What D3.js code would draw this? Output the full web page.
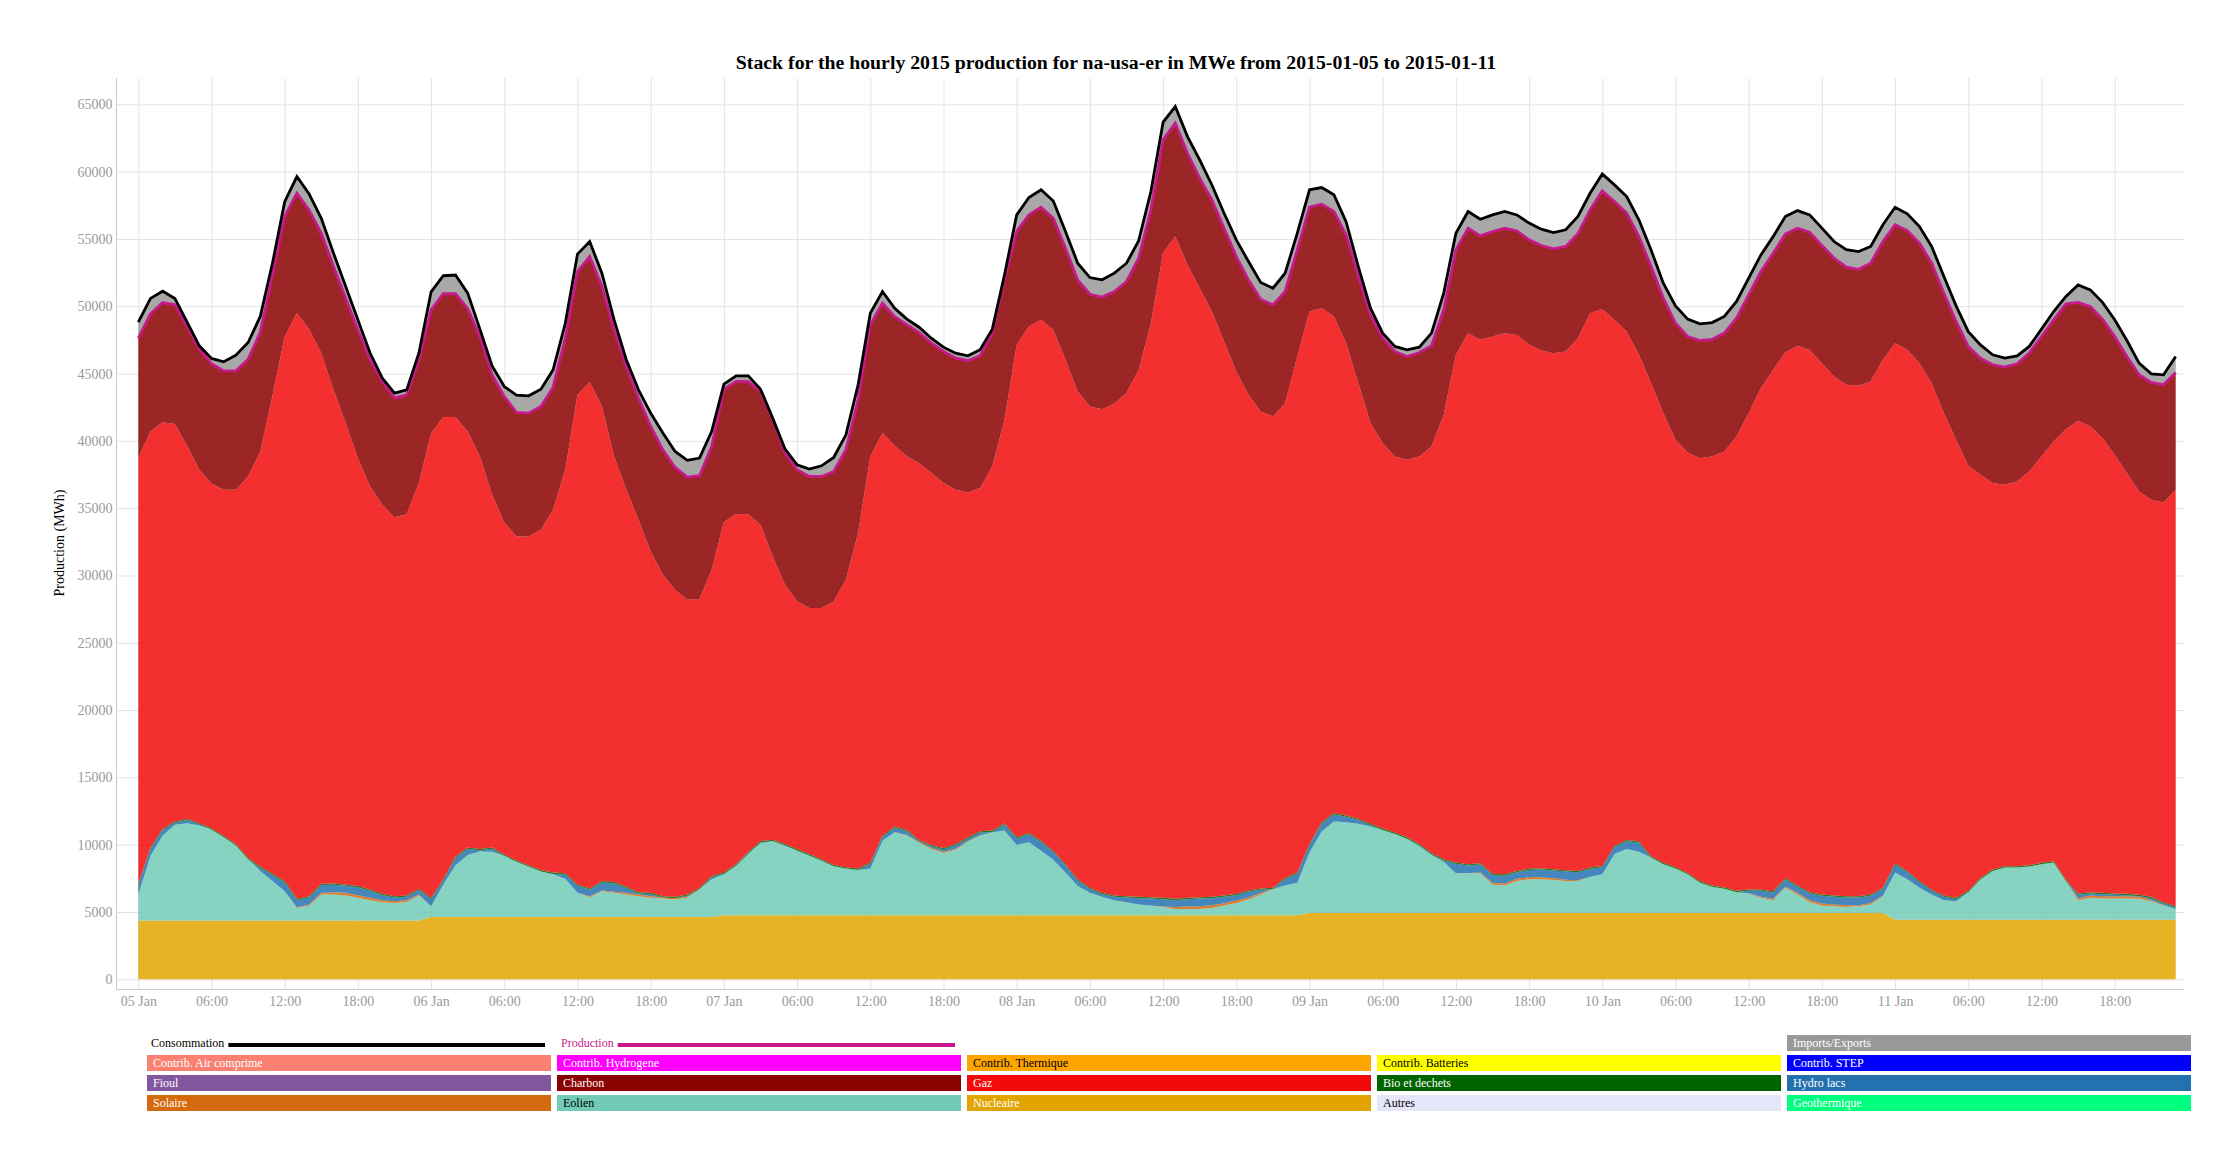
<!DOCTYPE html>
<html>
<head>
<meta charset="utf-8">
<script src="https://cdn.jsdelivr.net/npm/d3@7"></script>
<style>
body { margin: 0; background: #fff; }
svg { display: block; font-family: "Liberation Serif", "Times New Roman", serif; }
</style>
</head>
<body>
<div id="graph"></div>
<script>
// hourly values, 2015-01-05 00:00 -> 2015-01-11 23:00 (one line per day)
const START = Date.UTC(2015, 0, 5, 0);

const nucleaire = [
    4375, 4375, 4375, 4375, 4375, 4375, 4375, 4375, 4375, 4375, 4375, 4375, 4375, 4375, 4375, 4375, 4375, 4375, 4375, 4375, 4375, 4375, 4375, 4375,
    4625, 4625, 4625, 4625, 4625, 4625, 4625, 4625, 4625, 4625, 4625, 4625, 4625, 4625, 4625, 4625, 4625, 4625, 4625, 4625, 4625, 4625, 4625, 4625,
    4750, 4750, 4750, 4750, 4750, 4750, 4750, 4750, 4750, 4750, 4750, 4750, 4750, 4750, 4750, 4750, 4750, 4750, 4750, 4750, 4750, 4750, 4750, 4750,
    4750, 4750, 4750, 4750, 4750, 4750, 4750, 4750, 4750, 4750, 4750, 4750, 4750, 4750, 4750, 4750, 4750, 4750, 4750, 4750, 4750, 4750, 4750, 4750,
    4925, 4925, 4925, 4925, 4925, 4925, 4925, 4925, 4925, 4925, 4925, 4925, 4925, 4925, 4925, 4925, 4925, 4925, 4925, 4925, 4925, 4925, 4925, 4925,
    4925, 4925, 4925, 4925, 4925, 4925, 4925, 4925, 4925, 4925, 4925, 4925, 4925, 4925, 4925, 4925, 4925, 4925, 4925, 4925, 4925, 4925, 4925, 4925,
    4425, 4425, 4425, 4425, 4425, 4425, 4425, 4425, 4425, 4425, 4425, 4425, 4425, 4425, 4425, 4425, 4425, 4425, 4425, 4425, 4425, 4425, 4425, 4425
];

const eolien = [
    1925, 4800, 6300, 7100, 7225, 7050, 6750, 6175, 5550, 4550, 3675, 2925, 2175, 925, 1100, 1925, 1925, 1850, 1675, 1500, 1350, 1300, 1375, 1850,
    800, 2425, 3850, 4600, 4875, 4850, 4550, 4100, 3750, 3375, 3175, 2850, 1800, 1475, 1925, 1800, 1675, 1550, 1425, 1375, 1300, 1425, 2050, 2800,
    3050, 3675, 4550, 5375, 5500, 5175, 4800, 4425, 4050, 3625, 3475, 3375, 3475, 5550, 6175, 5925, 5375, 4925, 4625, 4875, 5475, 5925, 6175, 6300,
    5225, 5425, 4800, 4125, 3175, 2175, 1675, 1375, 1125, 975, 800, 725, 625, 475, 475, 475, 550, 725, 925, 1175, 1550, 1925, 2225, 2425,
    4500, 6050, 6800, 6750, 6625, 6425, 6175, 5875, 5500, 4950, 4300, 3800, 2950, 2950, 2950, 2125, 2050, 2375, 2500, 2500, 2450, 2375, 2375, 2700,
    2875, 4375, 4750, 4550, 4125, 3625, 3300, 2875, 2250, 1950, 1800, 1550, 1450, 1125, 950, 1875, 1375, 800, 550, 500, 450, 500, 625, 1250,
    3500, 3000, 2375, 1875, 1450, 1375, 2050, 3000, 3625, 3875, 3875, 3950, 4125, 4250, 2875, 1450, 1625, 1575, 1575, 1575, 1550, 1375, 1050, 800
];

const solaire = [
    0, 0, 0, 0, 0, 0, 0, 0, 0, 0, 0, 0, 0, 50, 75, 125, 175, 200, 200, 175, 150, 125, 125, 75,
    0, 0, 0, 0, 0, 0, 0, 0, 0, 0, 0, 0, 0, 75, 50, 75, 125, 125, 125, 75, 100, 75, 25, 0,
    0, 0, 0, 0, 0, 0, 0, 0, 0, 0, 0, 0, 0, 0, 25, 50, 75, 100, 100, 75, 50, 25, 0, 0,
    0, 0, 0, 0, 0, 0, 0, 0, 0, 0, 0, 0, 25, 150, 175, 200, 200, 175, 175, 150, 125, 25, 0, 0,
    0, 0, 0, 0, 0, 0, 0, 0, 0, 0, 0, 0, 0, 25, 50, 125, 150, 175, 175, 150, 125, 100, 50, 0,
    0, 0, 0, 0, 0, 0, 0, 0, 0, 0, 0, 0, 25, 75, 100, 75, 125, 150, 150, 125, 125, 75, 125, 25,
    0, 0, 0, 0, 0, 0, 0, 0, 0, 0, 0, 0, 0, 0, 0, 150, 175, 175, 175, 175, 150, 100, 50, 0
];

const hydro = [
    700, 525, 400, 150, 225, 75, 0, 0, 25, 0, 225, 450, 650, 525, 525, 575, 550, 525, 575, 525, 375, 275, 250, 325,
    525, 275, 550, 475, 75, 225, 0, 0, 0, 0, 25, 300, 525, 475, 600, 625, 350, 75, 150, 0, 0, 75, 0, 150,
    25, 25, 75, 25, 25, 25, 25, 25, 25, 25, 0, 0, 350, 275, 300, 275, 50, 100, 175, 250, 175, 200, 25, 450,
    475, 600, 650, 575, 525, 400, 275, 200, 250, 350, 475, 525, 550, 500, 550, 575, 525, 475, 400, 425, 225, 0, 475, 650,
    525, 600, 525, 400, 275, 100, 0, 0, 25, 75, 50, 100, 700, 550, 600, 575, 575, 475, 525, 575, 575, 600, 600, 575,
    525, 525, 575, 675, 0, 0, 0, 0, 0, 0, 0, 0, 175, 450, 475, 525, 450, 500, 575, 575, 575, 575, 525, 500,
    600, 525, 400, 275, 250, 150, 0, 0, 0, 0, 0, 0, 0, 0, 0, 250, 150, 150, 100, 75, 50, 125, 100, 100
];

const bio = [
    100, 100, 100, 100, 100, 100, 100, 100, 100, 100, 100, 100, 100, 100, 100, 100, 100, 100, 100, 100, 100, 100, 100, 100,
    100, 100, 100, 100, 100, 100, 100, 100, 100, 100, 100, 100, 100, 100, 100, 100, 100, 100, 100, 100, 100, 100, 100, 100,
    100, 100, 100, 100, 100, 100, 100, 100, 100, 100, 100, 100, 100, 100, 100, 100, 100, 100, 100, 100, 100, 100, 100, 100,
    100, 100, 100, 100, 100, 100, 100, 100, 100, 100, 100, 100, 100, 100, 100, 100, 100, 100, 100, 100, 100, 100, 100, 100,
    100, 100, 100, 100, 100, 100, 100, 100, 100, 100, 100, 100, 100, 100, 100, 100, 100, 100, 100, 100, 100, 100, 100, 100,
    100, 100, 100, 100, 100, 100, 100, 100, 100, 100, 100, 100, 100, 100, 100, 100, 100, 100, 100, 100, 100, 100, 100, 100,
    100, 100, 100, 100, 100, 100, 100, 100, 100, 100, 100, 100, 100, 100, 100, 100, 100, 100, 100, 100, 100, 100, 100, 100
];

const gaz = [
    31620, 30900, 30210, 29520, 27710, 26250, 25590, 25710, 26310, 28330, 30840, 35500, 40450, 43510, 42120, 39410, 36670, 34270, 31790, 29940, 28900, 28140, 28330, 30140,
    34520, 34340, 32640, 30900, 29160, 26190, 24660, 24070, 24420, 25290, 26950, 29970, 36370, 37630, 35250, 31610, 29490, 27660, 25360, 23880, 22820, 21900, 21450, 22750,
    26040, 26010, 25080, 23520, 21040, 19260, 18400, 18280, 18650, 19570, 21360, 24920, 30160, 29900, 28280, 27740, 27990, 27630, 27110, 26310, 25620, 25490, 27050, 29960,
    36580, 37620, 38690, 38690, 37470, 36240, 35750, 35930, 36530, 37370, 39150, 42640, 47940, 49200, 47020, 45240, 43480, 41150, 38800, 36820, 35430, 35010, 35250, 38340,
    39560, 38180, 36890, 35080, 32360, 29770, 28630, 27940, 28040, 28790, 30210, 33010, 37710, 39450, 38880, 39900, 40200, 39820, 38910, 38460, 38340, 38540, 39580, 41180,
    41350, 39060, 37770, 36140, 35130, 33410, 31750, 31240, 31440, 31860, 32390, 33750, 35380, 37240, 38720, 39060, 40080, 40280, 39470, 38550, 37990, 37910, 38110, 39220,
    38630, 38710, 38470, 37610, 35830, 34030, 31570, 29950, 28710, 28340, 28580, 29250, 30190, 31180, 33470, 35110, 34590, 33780, 32590, 31250, 29970, 29500, 29700, 30940
];

const charbon = [
    8910, 8740, 8890, 8860, 8860, 8960, 8910, 8840, 8840, 8710, 8840, 8980, 8910, 8910, 8860, 8910, 9160, 9280, 9530, 9410, 9160, 8860, 8860, 9160,
    9160, 9160, 9160, 9110, 8910, 8910, 9360, 9210, 9160, 9160, 9110, 9780, 9160, 9310, 8910, 9410, 9160, 9030, 9280, 9280, 9080, 9110, 9160, 9160,
    9880, 9850, 9850, 9900, 10150, 9780, 9780, 9780, 9780, 9650, 9650, 9900, 9780, 9650, 9600, 9780, 9700, 9650, 9780, 9780, 9780, 9830, 9900, 10400,
    8420, 8290, 8370, 8290, 8290, 8290, 8340, 8320, 8340, 8290, 8290, 8420, 8370, 8420, 8290, 8170, 8290, 8420, 8540, 8540, 8340, 8290, 8290, 7920,
    7750, 7720, 7800, 8040, 7920, 8040, 7800, 7800, 7670, 7720, 7480, 7800, 7800, 7800, 7720, 7800, 7800, 7720, 7800, 7800, 7750, 7800, 7750, 7670,
    8790, 8790, 8790, 8790, 8660, 8540, 8660, 8610, 8740, 8710, 8790, 8790, 8790, 8660, 8660, 8790, 8740, 8740, 8740, 8790, 8740, 8660, 8790, 8790,
    8790, 8860, 8910, 8910, 8910, 8790, 8860, 8660, 8790, 8740, 8740, 8790, 8910, 9030, 9310, 8790, 8910, 8840, 8790, 8660, 8660, 8710, 8740, 8710
];

const imports = [
    1190, 1140, 840, 470, 320, 250, 400, 670, 1160, 1240, 1190, 870, 1110, 1240, 1190, 1110, 990, 870, 740, 500, 250, 370, 370, 500,
    1340, 1340, 1390, 1160, 550, 670, 740, 1290, 1290, 1290, 1290, 1110, 1290, 1110, 990, 740, 500, 620, 990, 1240, 1190, 1240, 1310, 1120,
    370, 420, 420, 170, 120, 320, 370, 540, 790, 1040, 1110, 1110, 870, 870, 620, 420, 400, 370, 320, 370, 370, 450, 300, 370,
    1240, 1290, 1290, 1290, 1240, 1240, 1240, 1290, 1360, 1360, 1310, 1360, 1310, 1240, 1240, 1360, 1110, 1110, 1240, 1360, 1240, 1240, 1360, 1240,
    1290, 1240, 1240, 990, 740, 500, 370, 370, 500, 400, 940, 1240, 1240, 1240, 1240, 1240, 1240, 1190, 1240, 1210, 1210, 1240, 1290, 1240,
    1260, 1240, 1240, 1240, 1240, 1110, 1290, 1290, 1240, 1240, 1240, 1240, 1240, 1240, 1240, 1310, 1310, 1290, 1290, 1240, 1290, 1310, 1240, 1240,
    1310, 1240, 1240, 1240, 1240, 1160, 1110, 990, 740, 670, 590, 500, 550, 620, 550, 1310, 1240, 1240, 1240, 1190, 870, 640, 740, 1190
];

const xTickLabels = [
    "05 Jan", "06:00", "12:00", "18:00", "06 Jan", "06:00", "12:00", "18:00",
    "07 Jan", "06:00", "12:00", "18:00", "08 Jan", "06:00", "12:00", "18:00",
    "09 Jan", "06:00", "12:00", "18:00", "10 Jan", "06:00", "12:00", "18:00",
    "11 Jan", "06:00", "12:00", "18:00"
];
const yTicks = [0, 5000, 10000, 15000, 20000, 25000, 30000, 35000, 40000, 45000, 50000, 55000, 60000, 65000];

const stackKeys = ["Nucleaire", "Eolien", "Solaire", "Hydro lacs", "Bio et dechets", "Gaz", "Charbon", "Imports/Exports"];

const legendRows = [
    ["Contrib. Air comprime", "Contrib. Hydrogene", "Contrib. Thermique", "Contrib. Batteries", "Contrib. STEP"],
    ["Fioul", "Charbon", "Gaz", "Bio et dechets", "Hydro lacs"],
    ["Solaire", "Eolien", "Nucleaire", "Autres", "Geothermique"]
];

const colors = {
    "Contrib. Air comprime": "#fa8072", "Contrib. Hydrogene": "#ff00ff", "Contrib. Thermique": "#ffa500",
    "Contrib. Batteries": "#ffff00", "Contrib. STEP": "#0000ff", "Fioul": "#8157a0", "Charbon": "#8b0000",
    "Gaz": "#f20a0a", "Bio et dechets": "#006400", "Hydro lacs": "#2471b0", "Solaire": "#d5690d",
    "Eolien": "#72cbb7", "Nucleaire": "#e2a400", "Autres": "#e6e6fa", "Geothermique": "#00ff7f",
    "Imports/Exports": "#999999"
};
const darkText = ["Contrib. Thermique", "Contrib. Batteries", "Eolien", "Autres"];
const PROD_COLOR = "#c8198c";

const width = 2240, height = 1160;
const frame = {left: 116.5, right: 2184, top: 78, bottom: 989.5};

let svg = d3.select("#graph")
    .append("svg")
    .attr("width", width)
    .attr("height", height);

let hours = nucleaire.map(function(d, i) { return new Date(START + i * 3600000); });

let table = hours.map(function(t, i) {
    return {
        date: t,
        "Nucleaire": nucleaire[i], "Eolien": eolien[i], "Solaire": solaire[i], "Hydro lacs": hydro[i],
        "Bio et dechets": bio[i], "Gaz": gaz[i], "Charbon": charbon[i], "Imports/Exports": imports[i]
    };
});

let x = d3.scaleUtc()
    .domain([hours[0], hours[hours.length - 1]])
    .range([138.3, 2175.7]);

let y = d3.scaleLinear()
    .domain([0, 65000])
    .range([979.3, 104.3]);

// grid + tick labels
let yAxis = svg.append("g")
    .attr("transform", `translate(${frame.left}, 0)`)
    .call(d3.axisLeft(y).tickValues(yTicks).tickFormat(d3.format("d"))
        .tickSize(-(frame.right - frame.left)).tickPadding(4));

let xTickValues = xTickLabels.map(function(d, i) { return new Date(START + i * 6 * 3600000); });
let xAxis = svg.append("g")
    .attr("transform", `translate(0, ${frame.bottom})`)
    .call(d3.axisBottom(x).tickValues(xTickValues)
        .tickFormat(function(d, i) { return xTickLabels[i]; })
        .tickSize(-(frame.bottom - frame.top)).tickPadding(7));

[yAxis, xAxis].forEach(function(g) {
    g.select(".domain").remove();
    g.selectAll("line").attr("stroke", "#e3e3e3").attr("stroke-width", 1);
    g.selectAll("text")
        .attr("fill", "#9a9a9a")
        .style("font-size", "14px")
        .style("font-family", "'Liberation Serif', 'Times New Roman', serif");
});

// stacked areas
let series = d3.stack().keys(stackKeys)(table);

let area = d3.area()
    .x(function(d) { return x(d.data.date); })
    .y0(function(d) { return y(d[0]); })
    .y1(function(d) { return y(d[1]); });

svg.append("g")
    .selectAll("path")
    .data(series)
    .enter()
    .append("path")
    .attr("d", area)
    .attr("fill", function(d) { return colors[d.key]; })
    .attr("fill-opacity", 0.85);

let topLine = d3.line()
    .x(function(d) { return x(d.data.date); })
    .y(function(d) { return y(d[1]); });

// production = top of the generation stack, consommation = with imports
svg.append("path")
    .attr("d", topLine(series[stackKeys.indexOf("Charbon")]))
    .attr("fill", "none")
    .attr("stroke", PROD_COLOR)
    .attr("stroke-width", 2.8);

svg.append("path")
    .attr("d", topLine(series[stackKeys.indexOf("Imports/Exports")]))
    .attr("fill", "none")
    .attr("stroke", "#000")
    .attr("stroke-width", 2.8);

// axis lines
svg.append("line")
    .attr("x1", frame.left).attr("x2", frame.left)
    .attr("y1", frame.top).attr("y2", frame.bottom)
    .attr("stroke", "#c8c8c8");
svg.append("line")
    .attr("x1", frame.left).attr("x2", frame.right)
    .attr("y1", frame.bottom).attr("y2", frame.bottom)
    .attr("stroke", "#c8c8c8");

svg.append("text")
    .attr("x", 1116)
    .attr("y", 69)
    .style("text-anchor", "middle")
    .style("font-size", "19.8px")
    .style("font-weight", 700)
    .text("Stack for the hourly 2015 production for na-usa-er in MWe from 2015-01-05 to 2015-01-11");

svg.append("text")
    .attr("transform", "translate(64, 543) rotate(-90)")
    .style("text-anchor", "middle")
    .style("font-size", "14px")
    .text("Production (MWh)");

// legend
const LEG_X = 147, LEG_Y = 1035, COL_W = 410, ROW_H = 20, BOX_W = 404, BOX_H = 16;
let legend = svg.append("g").style("font-size", "12px");

[["Consommation", "#000"], ["Production", PROD_COLOR]].forEach(function(item, col) {
    let x0 = LEG_X + col * COL_W;
    let label = legend.append("text")
        .attr("x", x0 + 4)
        .attr("y", LEG_Y + 12)
        .attr("fill", item[1])
        .text(item[0]);
    let len = label.node().getComputedTextLength();
    legend.append("line")
        .attr("x1", x0 + 4 + len + 4).attr("x2", x0 + 398)
        .attr("y1", LEG_Y + 10).attr("y2", LEG_Y + 10)
        .attr("stroke", item[1])
        .attr("stroke-width", 4);
});

let boxes = [{name: "Imports/Exports", row: 0, col: 4}];
legendRows.forEach(function(row, r) {
    row.forEach(function(name, c) { boxes.push({name: name, row: r + 1, col: c}); });
});

let entries = legend.selectAll("g.entry")
    .data(boxes)
    .enter()
    .append("g")
    .attr("class", "entry")
    .attr("transform", function(d) { return `translate(${LEG_X + d.col * COL_W}, ${LEG_Y + d.row * ROW_H})`; });

entries.append("rect")
    .attr("width", BOX_W)
    .attr("height", BOX_H)
    .attr("fill", function(d) { return colors[d.name]; });

entries.append("text")
    .attr("x", 6)
    .attr("y", 12)
    .attr("fill", function(d) { return darkText.indexOf(d.name) >= 0 ? "#000" : "#fff"; })
    .text(function(d) { return d.name; });
</script>
</body>
</html>
